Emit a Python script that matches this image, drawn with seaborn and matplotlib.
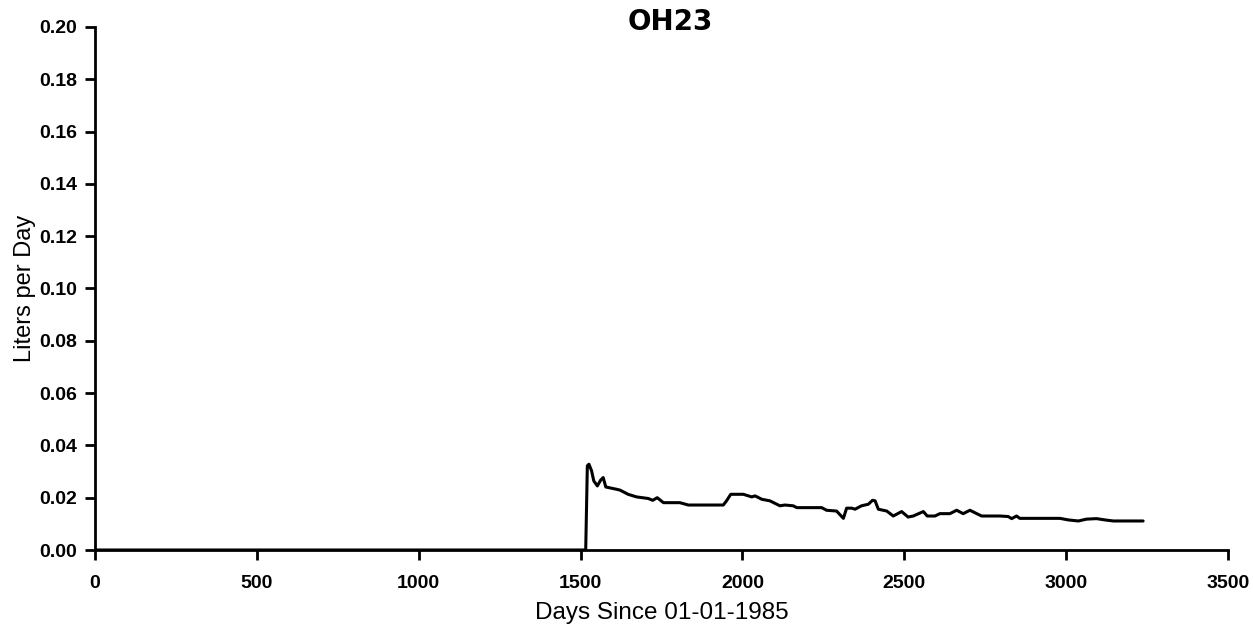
import numpy as np
import pandas as pd
import matplotlib
matplotlib.use("Agg")
import matplotlib.pyplot as plt
import seaborn as sns

# values
days = [0, 1516, 1516, 1521, 1526, 1534, 1541, 1552, 1562, 1570, 1578, 1612, 1622, 1647,
        1673, 1709, 1723, 1737, 1756, 1807, 1833, 1941, 1951, 1964, 2003, 2029,
        2039, 2060, 2085, 2116, 2131, 2157, 2168, 2245, 2260, 2291, 2312, 2322,
        2338, 2348, 2368, 2389, 2402, 2410, 2420, 2446, 2466, 2492, 2512, 2528,
        2559, 2571, 2595, 2610, 2641, 2662, 2682, 2703, 2724, 2739, 2796, 2821,
        2832, 2847, 2857, 2981, 3007, 3038, 3063, 3094, 3120, 3146, 3238]
liters = [0.0, 0.0, 0.0, 0.0322, 0.0328, 0.0303, 0.0264, 0.0245, 0.0267, 0.0277, 0.0241,
          0.0232, 0.0229, 0.0213, 0.0203, 0.0197, 0.0190, 0.0200, 0.0181, 0.0181,
          0.0172, 0.0172, 0.0188, 0.0213, 0.0213, 0.0203, 0.0207, 0.0194, 0.0188,
          0.0169, 0.0172, 0.0169, 0.0162, 0.0162, 0.0152, 0.0149, 0.0121, 0.0160,
          0.0160, 0.0156, 0.0169, 0.0175, 0.0190, 0.0188, 0.0156, 0.0149, 0.0130,
          0.0147, 0.0126, 0.0130, 0.0147, 0.0130, 0.0130, 0.0139, 0.0139, 0.0152,
          0.0139, 0.0152, 0.0139, 0.0130, 0.0130, 0.0128, 0.0120, 0.0130,
          0.0121, 0.0121, 0.0115, 0.0111, 0.0118, 0.0120, 0.0115, 0.0111, 0.0111]
x_ticks = [0, 500, 1000, 1500, 2000, 2500, 3000, 3500]
y_ticks = [0.00, 0.02, 0.04, 0.06, 0.08, 0.10, 0.12, 0.14, 0.16, 0.18, 0.20]

df = pd.DataFrame({"day": days, "lpd": liters})

sns.set_style("ticks")
plt.rcParams['font.family'] = ['Liberation Sans', 'DejaVu Sans']
plt.rcParams['text.color'] = 'black'
plt.rcParams['axes.labelcolor'] = 'black'

fig = plt.figure(figsize=(12.53, 6.27), dpi=100)
ax = fig.add_axes([0.0758, 0.1228, 0.9042, 0.8342])

sns.lineplot(data=df, x="day", y="lpd", color="black", linewidth=2.2, sort=False,
             estimator=None, ax=ax)

ax.set_xlim(0, 3500)
ax.set_ylim(0, 0.20)
ax.set_xticks(x_ticks)
ax.set_yticks(y_ticks)
ax.set_yticklabels([f"{v:.2f}" for v in y_ticks])
ax.tick_params(axis="both", labelsize=14, length=7, width=2, color="black",
               labelcolor="black")
ax.tick_params(axis="x", pad=11)
ax.tick_params(axis="y", pad=6)
for lab in ax.get_xticklabels() + ax.get_yticklabels():
    lab.set_fontweight("bold")
sns.despine(ax=ax)
for side in ["left", "bottom"]:
    ax.spines[side].set_linewidth(2)
    ax.spines[side].set_color("black")

ax.set_xlabel("Days Since 01-01-1985", fontsize=17.5, labelpad=7)
ax.set_ylabel("Liters per Day", fontsize=17, labelpad=2)
# explicit y keeps matplotlib from lifting the title over the tick labels
ax.set_title("OH23", fontsize=20, fontweight="bold", family="DejaVu Sans",
             x=0.508, y=1.0, pad=-2)

fig.savefig("out.png", dpi=100)
